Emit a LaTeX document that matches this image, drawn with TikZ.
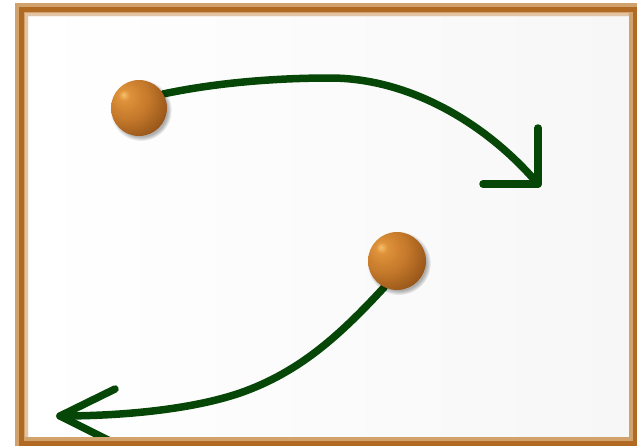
\documentclass[tikz,border=0pt]{standalone}
\usetikzlibrary{shadows}
\definecolor{arrowgreen}{RGB}{6,70,6}
\definecolor{frametan}{RGB}{210,162,108}
\definecolor{framedark}{RGB}{176,106,36}
\definecolor{framepale}{RGB}{226,196,164}
\definecolor{bgright}{RGB}{247,247,247}
\definecolor{ballhi}{RGB}{248,192,110}
\definecolor{ballmid}{RGB}{222,146,58}
\definecolor{ballbase}{RGB}{196,120,42}
\definecolor{balldark}{RGB}{140,78,22}
\definecolor{ballrim}{RGB}{75,40,10}
\pgfdeclareradialshading{orangeball}{\pgfpoint{-14bp}{12bp}}{%
  color(0bp)=(ballhi); color(5bp)=(ballmid); color(20bp)=(ballbase);
  color(40bp)=(balldark); color(60bp)=(ballrim); color(100bp)=(ballrim)}
\tikzset{
  arrowline/.style={draw=arrowgreen, line width=7.5pt, line cap=round, line join=round},
  sphere/.style={circle, inner sep=0pt, shade, shading=orangeball,
    circular drop shadow={shadow xshift=1.8pt, shadow yshift=-2pt, opacity=.3, fill=black}},
}
\begin{document}
\begin{tikzpicture}[x=1pt,y=-1pt]
\useasboundingbox (0,0) rectangle (637,445);
\clip (0,0) rectangle (637,445);
\fill[white] (0,0) rectangle (637,445);
% background of panel
\shade[left color=white, right color=bgright] (28,16) rectangle (629,437);
% coordinates
\coordinate (m1) at (330,78);
\coordinate (t1) at (538,184);
\coordinate (a1u) at (538,128);
\coordinate (a1l) at (483,184);
\coordinate (m2) at (240,393);
\coordinate (t2) at (60,416);
\coordinate (a2u) at (115,389);
\coordinate (a2l) at (110,441);
% balls (for anchors)
\node[circle, inner sep=0pt, minimum size=56pt] (b1) at (139,108) {};
\node[circle, inner sep=0pt, minimum size=58pt] (b2) at (397,261) {};
% curves
\draw[arrowline] (b1.30) .. controls (220,82) and (280,78) .. (m1)
  .. controls (410,78) and (487,124) .. (t1);
\draw[arrowline] (a1u) -- (t1) -- (a1l);
\draw[arrowline] (b2.244) .. controls (340,335) and (300,372) .. (m2)
  .. controls (190,410) and (120,416) .. (t2);
\draw[arrowline] (a2u) -- (t2) -- (a2l);
% balls on top of curve ends
\node[sphere, minimum size=56pt] at (b1) {};
\node[sphere, minimum size=58pt] at (b2) {};
% frame
\fill[frametan, even odd rule] (15,3) rectangle (642,450) (28,16) rectangle (629,437);
\draw[framedark, line width=4.5pt] (21.5,9.5) rectangle (635.5,443.5);
\draw[framepale, line width=3pt] (26.5,437) -- (26.5,14.5) -- (629,14.5);
\end{tikzpicture}
\end{document}
